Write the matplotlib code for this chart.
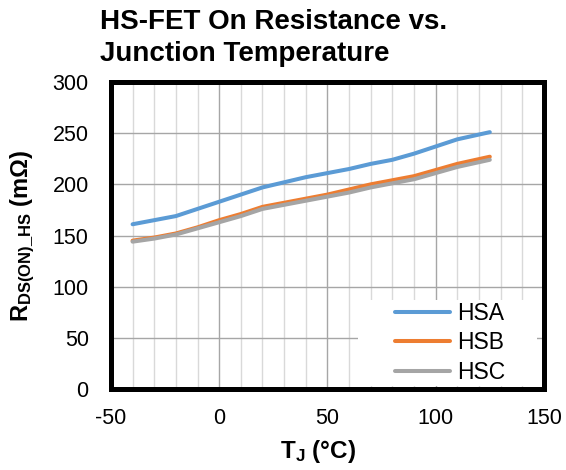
import numpy as np
import matplotlib
matplotlib.use("Agg")
import matplotlib.pyplot as plt
from matplotlib.ticker import MultipleLocator
from matplotlib.patches import Rectangle

plt.rcParams['font.family'] = ['Liberation Sans', 'DejaVu Sans']
plt.rcParams['axes.unicode_minus'] = False
plt.rcParams['mathtext.fontset'] = 'custom'
plt.rcParams['mathtext.rm'] = 'Liberation Sans:bold'
plt.rcParams['mathtext.bf'] = 'Liberation Sans:bold'
plt.rcParams['mathtext.it'] = 'Liberation Sans:bold'
plt.rcParams['mathtext.default'] = 'bf'

# junction temperature (°C) and on resistance (mOhm) per channel
temp_c = [-40, -30, -20, -10, 0, 10, 20, 30, 40, 50, 60, 70, 80, 90, 100, 110, 125]
r_hsa = [161, 165, 169, 176, 183, 190, 197, 202, 207, 211, 215, 220, 224, 230, 237, 244, 251]
r_hsb = [145, 148, 152, 158, 165, 171, 178, 182, 186, 190, 195, 200, 204, 208, 214, 220, 227]
r_hsc = [144, 147, 151, 157, 163, 169, 176, 180, 184, 188, 192, 197, 201, 205, 211, 217, 224]

series = [("HSA", r_hsa, "#5B9BD5"),
          ("HSB", r_hsb, "#ED7D31"),
          ("HSC", r_hsc, "#A5A5A5")]

fig = plt.figure(figsize=(5.66, 4.70), dpi=100)
ax = fig.add_axes([0.196, 0.1723, 0.765, 0.6532])

for name, vals, col in series:
    ax.plot(temp_c, vals, color=col, lw=2.9, label=name, solid_capstyle='round',
            solid_joinstyle='round', zorder=3)

ax.set_xlim(-50, 150)
ax.set_ylim(0, 300)
ax.xaxis.set_major_locator(MultipleLocator(50))
ax.xaxis.set_minor_locator(MultipleLocator(10))
ax.yaxis.set_major_locator(MultipleLocator(50))

ax.grid(which='minor', axis='x', color='#d9d9d9', lw=1.0)
ax.grid(which='major', axis='x', color='#a6a6a6', lw=1.0)
ax.grid(which='major', axis='y', color='#a6a6a6', lw=1.0)
ax.set_axisbelow(True)

for s in ax.spines.values():
    s.set_linewidth(3.6)
    s.set_color('black')

ax.tick_params(which='both', length=0, labelsize=15.5)
ax.tick_params(axis='y', pad=16)
ax.tick_params(axis='x', pad=14)

ax.set_xlabel(r'$T_J$ (°C)', fontsize=17.5, fontweight='bold')
ax.set_ylabel(r'$R_{DS(ON)\_HS}$ (mΩ)', fontsize=17, fontweight='bold')
ax.yaxis.set_label_coords(-0.17, 0.5)
ax.xaxis.set_label_coords(0.479, -0.16)

# white panel behind the legend
ax.add_patch(Rectangle((0.571, 0.01), 0.414, 0.28, transform=ax.transAxes,
                       facecolor='white', edgecolor='none', zorder=2))

leg = ax.legend(loc='upper left', bbox_to_anchor=(0.657, 0.285), fontsize=16.5,
                frameon=False, borderaxespad=0, borderpad=0, handlelength=2.4,
                handletextpad=0.28, labelspacing=0.3)

fig.text(0.177, 0.98, "HS-FET On Resistance vs.\nJunction Temperature",
         fontsize=20, fontweight='bold', ha='left', va='top', linespacing=1.3)

fig.savefig("out.png", dpi=100)
